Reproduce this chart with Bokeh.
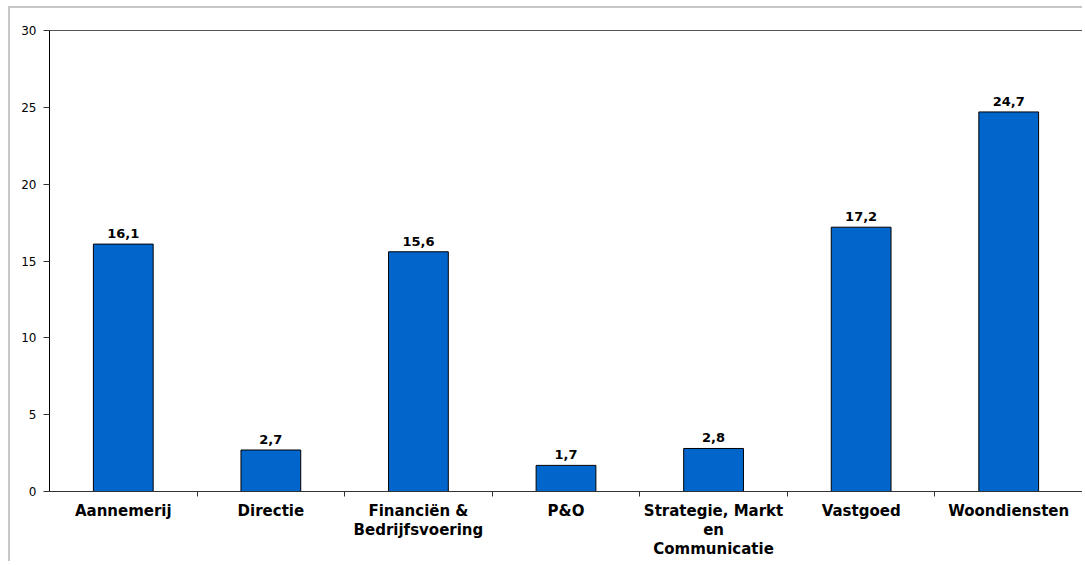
from bokeh.plotting import figure
from bokeh.models import Range1d, FixedTicker, LinearAxis, LabelSet, ColumnDataSource
from bokeh.core.properties import value
from bokeh.embed import file_html
from bokeh.resources import INLINE

categories = ["Aannemerij", "Directie", "Financiën &\nBedrijfsvoering", "P&O",
              "Strategie, Markt\nen\nCommunicatie", "Vastgoed", "Woondiensten"]
values = [16.1, 2.7, 15.6, 1.7, 2.8, 17.2, 24.7]
y_ticks = [0, 5, 10, 15, 20, 25, 30]

FONT = "DejaVu Sans"

n = len(categories)
xs = [i + 0.5 for i in range(n)]
labels = [f"{v:.1f}".replace(".", ",") for v in values]
src = ColumnDataSource(dict(x=xs, top=values, label=labels))

p = figure(width=1082, height=561, output_backend="svg", toolbar_location=None,
           x_range=Range1d(0, n), y_range=Range1d(0, 30),
           min_border_left=49, min_border_right=0, min_border_top=30, min_border_bottom=69)
border_grad = "linear-gradient(#c8c8c8, #c8c8c8)"
p.styles = {
    "background": (f"{border_grad} 8px 6px / 2px 100% no-repeat, "
                   f"{border_grad} 8px 6px / 100% 2px no-repeat, white"),
}
p.outline_line_color = None
p.xgrid.grid_line_color = None
p.ygrid.grid_line_color = None
p.background_fill_color = "white"
p.border_fill_color = None

p.vbar(x="x", top="top", width=0.405, bottom=0, source=src,
       fill_color="#0066CC", line_color="black", line_width=1)
p.add_layout(LabelSet(x="x", y="top", text="label", source=src, text_align="center",
                      text_baseline="alphabetic", y_offset=6, text_font=value(FONT),
                      text_font_size=value("13px"), text_font_style=value("bold"),
                      text_color=value("black")))

xa = p.xaxis[0]
xa.ticker = FixedTicker(ticks=xs, minor_ticks=[i for i in range(1, n)])
xa.major_label_overrides = {x: c for x, c in zip(xs, categories)}
xa.major_tick_out = 0
xa.major_tick_in = 0
xa.minor_tick_out = 5
xa.minor_tick_in = 0
xa.minor_tick_line_color = "#333333"
xa.axis_line_color = "#333333"
xa.major_label_text_font = FONT
xa.major_label_text_font_size = "15px"
xa.major_label_text_font_style = "bold"
xa.major_label_text_color = "black"
xa.major_label_text_line_height = 1.08
xa.major_label_standoff = 5

ya = p.yaxis[0]
ya.ticker = FixedTicker(ticks=y_ticks)
ya.major_tick_out = 6
ya.major_tick_in = 0
ya.minor_tick_line_color = None
ya.axis_line_color = "black"
ya.major_tick_line_color = "#333333"
ya.major_label_text_font = FONT
ya.major_label_text_font_size = "12px"
ya.major_label_text_color = "black"
ya.major_label_standoff = 7

top_axis = LinearAxis(ticker=FixedTicker(ticks=[0.5]), axis_line_color="#555555",
                      major_tick_line_color=None, minor_tick_line_color=None,
                      major_label_overrides={0.5: ""},
                      major_label_text_font_size="1px", major_label_standoff=0)
p.add_layout(top_axis, "above")

open("out.html", "w").write(file_html(p, INLINE))
